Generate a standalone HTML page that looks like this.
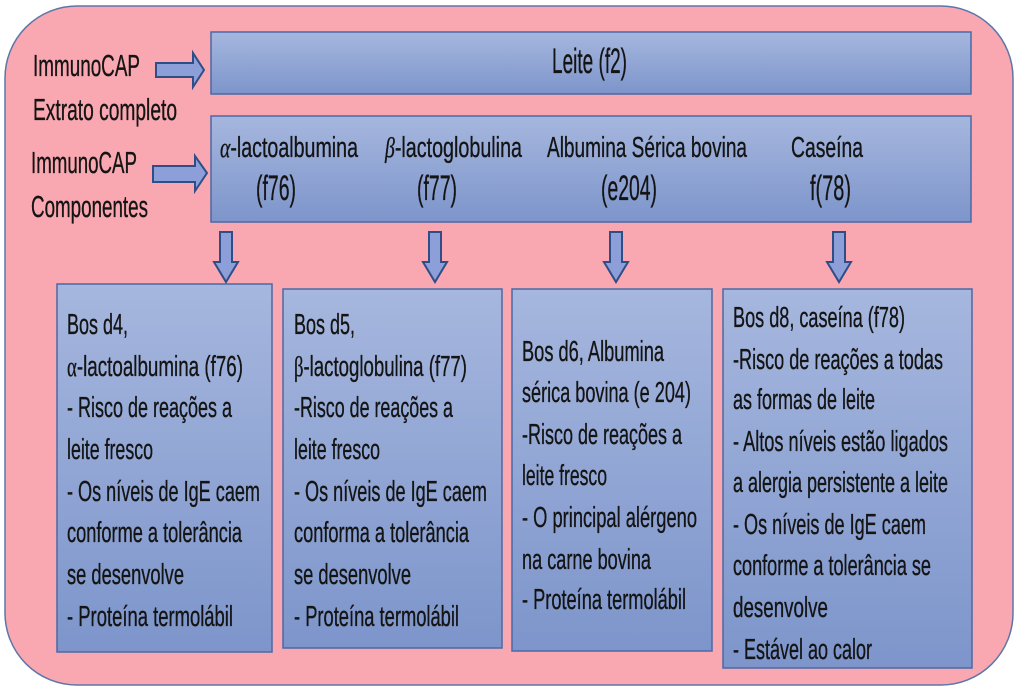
<!DOCTYPE html>
<html>
<head>
<meta charset="utf-8">
<style>
html,body{margin:0;padding:0;background:#ffffff;}
svg{display:block;}
text{font-family:"Liberation Sans",Arial,sans-serif;font-size:28.5px;fill:#141414;stroke:#141414;stroke-width:0.35;}
.g{font-family:"Liberation Serif","DejaVu Serif",serif;}
.gi{font-family:"Liberation Serif","DejaVu Serif",serif;font-style:italic;}
.lbl{font-size:30.5px;}
.big{font-size:35px;}
.mid{font-size:29px;}
.sm{font-size:27.5px;}
</style>
</head>
<body>
<svg width="1024" height="695" viewBox="0 0 1024 695" xmlns="http://www.w3.org/2000/svg">
<defs>
<linearGradient id="bx" x1="0" y1="0" x2="0" y2="1">
<stop offset="0" stop-color="#a6b7de"/>
<stop offset="1" stop-color="#7d95cb"/>
</linearGradient>
</defs>
<rect x="0" y="0" width="1024" height="695" fill="#ffffff"/>
<rect x="5" y="6" width="1008" height="679" rx="72" ry="72" fill="#f9a7b0" stroke="#5d76a8" stroke-width="1.5"/>

<!-- top boxes -->
<rect x="211" y="32" width="760" height="62" fill="url(#bx)" stroke="#4a69a6" stroke-width="1.5"/>
<rect x="211" y="116" width="760" height="106" fill="url(#bx)" stroke="#4a69a6" stroke-width="1.5"/>

<!-- right arrows -->
<path d="M156,63 L193,63 L193,53 L204,70 L193,87 L193,77 L156,77 Z" fill="#8c9fd9" stroke="#2f4d87" stroke-width="2"/>
<path d="M153,166 L195,166 L195,156 L207,173 L195,191 L195,182 L153,182 Z" fill="#8c9fd9" stroke="#2f4d87" stroke-width="2"/>

<!-- down arrows -->
<path d="M220,232 L232,232 L232,262 L238,262 L226,282 L214,262 L220,262 Z" fill="#8c9fd9" stroke="#2f4d87" stroke-width="2"/>
<path d="M429,232 L441,232 L441,262 L447,262 L435,282 L423,262 L429,262 Z" fill="#8c9fd9" stroke="#2f4d87" stroke-width="2"/>
<path d="M610,232 L622,232 L622,262 L628,262 L616,282 L604,262 L610,262 Z" fill="#8c9fd9" stroke="#2f4d87" stroke-width="2"/>
<path d="M833,232 L845,232 L845,262 L851,262 L839,282 L827,262 L833,262 Z" fill="#8c9fd9" stroke="#2f4d87" stroke-width="2"/>

<!-- bottom boxes -->
<rect x="57" y="284" width="215" height="368" fill="url(#bx)" stroke="#4a69a6" stroke-width="1.5"/>
<rect x="283" y="289" width="219" height="359" fill="url(#bx)" stroke="#4a69a6" stroke-width="1.5"/>
<rect x="512" y="289" width="200" height="362" fill="url(#bx)" stroke="#4a69a6" stroke-width="1.5"/>
<rect x="723" y="289" width="249" height="379" fill="url(#bx)" stroke="#4a69a6" stroke-width="1.5"/>

<!-- left labels -->
<text class="lbl" x="33" y="76" textLength="107" lengthAdjust="spacingAndGlyphs">ImmunoCAP</text>
<text class="lbl" x="33" y="120" textLength="144" lengthAdjust="spacingAndGlyphs">Extrato completo</text>
<text class="lbl" x="31" y="173" textLength="106" lengthAdjust="spacingAndGlyphs">ImmunoCAP</text>
<text class="lbl" x="31" y="217" textLength="117" lengthAdjust="spacingAndGlyphs">Componentes</text>

<!-- top box text -->
<text class="big" x="552" y="73" textLength="75" lengthAdjust="spacingAndGlyphs">Leite (f2)</text>

<!-- second box -->
<text class="mid" x="220" y="157" textLength="138" lengthAdjust="spacingAndGlyphs"><tspan class="gi">α</tspan>-lactoalbumina</text>
<text class="big" x="256" y="200" textLength="40" lengthAdjust="spacingAndGlyphs">(f76)</text>
<text class="mid" x="385" y="157" textLength="137" lengthAdjust="spacingAndGlyphs"><tspan class="gi">β</tspan>-lactoglobulina</text>
<text class="big" x="417" y="200" textLength="40" lengthAdjust="spacingAndGlyphs">(f77)</text>
<text class="mid" x="547" y="157" textLength="200" lengthAdjust="spacingAndGlyphs">Albumina Sérica bovina</text>
<text class="big" x="601" y="200" textLength="56" lengthAdjust="spacingAndGlyphs">(e204)</text>
<text class="mid" x="791" y="157" textLength="72" lengthAdjust="spacingAndGlyphs">Caseína</text>
<text class="big" x="810" y="200" textLength="41" lengthAdjust="spacingAndGlyphs">f(78)</text>

<!-- box 1 -->
<text x="67" y="334" textLength="61" lengthAdjust="spacingAndGlyphs">Bos d4,</text>
<text x="67" y="376" textLength="176" lengthAdjust="spacingAndGlyphs"><tspan class="g">α</tspan>-lactoalbumina (f76)</text>
<text x="67" y="417" textLength="165" lengthAdjust="spacingAndGlyphs">- Risco de reações a</text>
<text x="67" y="459" textLength="86" lengthAdjust="spacingAndGlyphs">leite fresco</text>
<text x="67" y="501" textLength="193" lengthAdjust="spacingAndGlyphs">- Os níveis de IgE caem</text>
<text x="67" y="542" textLength="175" lengthAdjust="spacingAndGlyphs">conforme a tolerância</text>
<text x="67" y="584" textLength="117" lengthAdjust="spacingAndGlyphs">se desenvolve</text>
<text x="67" y="626" textLength="166" lengthAdjust="spacingAndGlyphs">- Proteína termolábil</text>

<!-- box 2 -->
<text x="294" y="334" textLength="61" lengthAdjust="spacingAndGlyphs">Bos d5,</text>
<text x="294" y="376" textLength="173" lengthAdjust="spacingAndGlyphs"><tspan class="g">β</tspan>-lactoglobulina (f77)</text>
<text x="294" y="417" textLength="159" lengthAdjust="spacingAndGlyphs">-Risco de reações a</text>
<text x="294" y="459" textLength="86" lengthAdjust="spacingAndGlyphs">leite fresco</text>
<text x="294" y="501" textLength="193" lengthAdjust="spacingAndGlyphs">- Os níveis de IgE caem</text>
<text x="294" y="542" textLength="175" lengthAdjust="spacingAndGlyphs">conforma a tolerância</text>
<text x="294" y="584" textLength="117" lengthAdjust="spacingAndGlyphs">se desenvolve</text>
<text x="294" y="626" textLength="165" lengthAdjust="spacingAndGlyphs">- Proteína termolábil</text>

<!-- box 3 -->
<text x="522" y="361" textLength="142" lengthAdjust="spacingAndGlyphs">Bos d6, Albumina</text>
<text x="522" y="402" textLength="169" lengthAdjust="spacingAndGlyphs">sérica bovina (e 204)</text>
<text x="522" y="444" textLength="160" lengthAdjust="spacingAndGlyphs">-Risco de reações a</text>
<text x="522" y="485" textLength="85" lengthAdjust="spacingAndGlyphs">leite fresco</text>
<text x="522" y="527" textLength="175" lengthAdjust="spacingAndGlyphs">- O principal alérgeno</text>
<text x="522" y="569" textLength="129" lengthAdjust="spacingAndGlyphs">na carne bovina</text>
<text x="522" y="609" textLength="164" lengthAdjust="spacingAndGlyphs">- Proteína termolábil</text>

<!-- box 4 -->
<text x="733" y="327" textLength="172" lengthAdjust="spacingAndGlyphs">Bos d8, caseína (f78)</text>
<text x="733" y="369" textLength="210" lengthAdjust="spacingAndGlyphs">-Risco de reações a todas</text>
<text x="733" y="409" textLength="142" lengthAdjust="spacingAndGlyphs">as formas de leite</text>
<text x="733" y="451" textLength="215" lengthAdjust="spacingAndGlyphs">- Altos níveis estão ligados</text>
<text x="733" y="492" textLength="215" lengthAdjust="spacingAndGlyphs">a alergia persistente a leite</text>
<text x="733" y="534" textLength="193" lengthAdjust="spacingAndGlyphs">- Os níveis de IgE caem</text>
<text x="733" y="575" textLength="198" lengthAdjust="spacingAndGlyphs">conforme a tolerância se</text>
<text x="733" y="617" textLength="95" lengthAdjust="spacingAndGlyphs">desenvolve</text>
<text x="733" y="659" textLength="139" lengthAdjust="spacingAndGlyphs">- Estável ao calor</text>
</svg>
</body>
</html>
